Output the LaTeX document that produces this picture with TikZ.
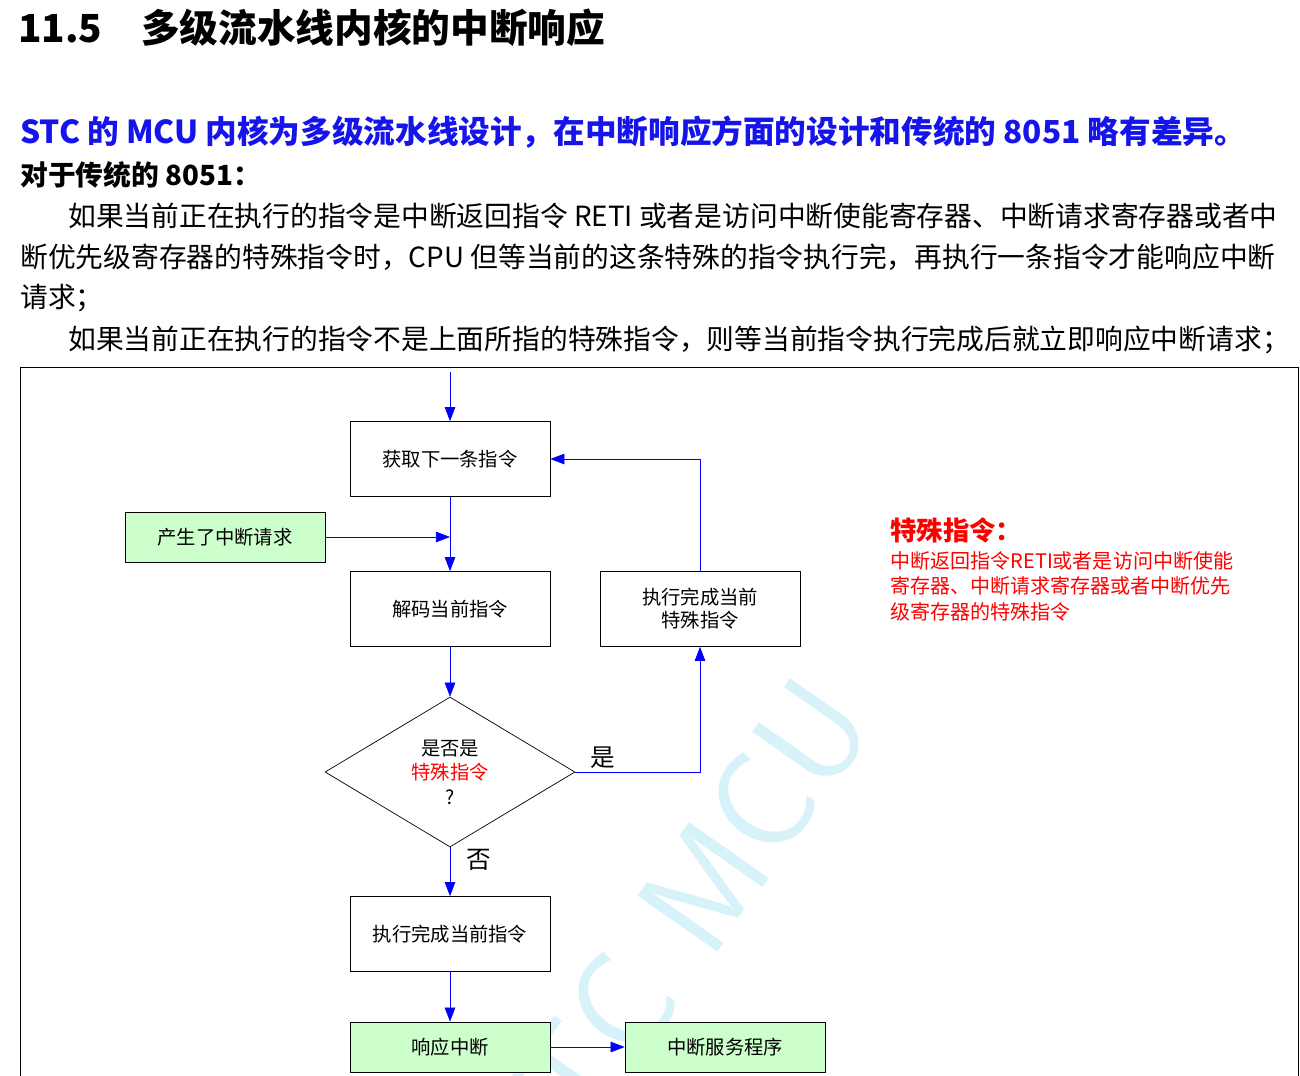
\documentclass[tikz,border=0pt]{standalone}
\usepackage{fontspec}
\setmainfont{Liberation Serif}
\newfontfamily\cjk{Noto Sans CJK SC}
\usetikzlibrary{shapes.geometric,arrows.meta}
\definecolor{boxgreen}{RGB}{204,255,204}
\definecolor{headblue}{RGB}{20,20,235}
\definecolor{wmark}{RGB}{215,242,248}
\tikzset{
  flowbox/.style={draw, minimum width=4cm, minimum height=1.5cm, font=\cjk\fontsize{11}{13}\selectfont, align=center},
  greenbox/.style={flowbox, fill=boxgreen, minimum height=1cm},
  flowarr/.style={draw=blue, -{Triangle[length=8pt,width=6pt]}},
  txtline/.style={anchor=west, inner sep=0pt, font=\cjk\fontsize{15.8}{18}\selectfont}
}
\begin{document}
\begin{tikzpicture}[x=0.02cm,y=-0.02cm]

%% - bounding box
\useasboundingbox (0,0) rectangle (1300,1075);

%% - Draw texts above the frame
%% - --------------------------------------

\node[anchor=west,inner sep=0pt,font=\cjk\bfseries\fontsize{22}{25}\selectfont] (title) at (18,28) {11.5\hspace{1em}多级流水线内核的中断响应};
\node[anchor=west,inner sep=0pt,text=headblue,font=\cjk\bfseries\fontsize{18}{21}\selectfont] (head) at (20,132) {STC 的 MCU 内核为多级流水线设计，在中断响应方面的设计和传统的 8051 略有差异。};
\node[txtline,font=\cjk\bfseries\fontsize{15.8}{18}\selectfont] (sub) at (20,175) {对于传统的 8051：};
\node[txtline] (pa) at (68,216) {如果当前正在执行的指令是中断返回指令 RETI 或者是访问中断使能寄存器、中断请求寄存器或者中};
\node[txtline] (pb) at (20,257) {断优先级寄存器的特殊指令时，CPU 但等当前的这条特殊的指令执行完，再执行一条指令才能响应中断};
\node[txtline] (pc) at (20,298) {请求；};
\node[txtline] (pd) at (68,340) {如果当前正在执行的指令不是上面所指的特殊指令，则等当前指令执行完成后就立即响应中断请求；};

%% - frame and watermark
%% - --------------------------------------

\draw[black, thin] (20,367) rectangle (1298,1090);
\node[rotate=55,text=wmark,font=\sffamily\fontsize{80}{80}\selectfont] (wm) at (670,935) {STC MCU};

%% - Draw boxes
%% - --------------------------------------

\node[flowbox] (fetch) at (450,459) {获取下一条指令};
\node[greenbox] (irq) at (225,537) {产生了中断请求};
\node[flowbox] (decode) at (450,609) {解码当前指令};
\node[flowbox] (special) at (700,609) {执行完成当前\\特殊指令};
\node[draw, diamond, aspect=1.667, minimum width=5cm, minimum height=3cm, inner sep=0pt, font=\cjk\fontsize{11}{14}\selectfont, align=center] (check) at (450,772) {是否是\\\textcolor{red}{特殊指令}\\?};
\node[flowbox] (exec) at (450,934) {执行完成当前指令};
\node[greenbox] (resp) at (450,1047) {响应中断};
\node[greenbox] (isr) at (725,1047) {中断服务程序};

%% - Draw arrows
%% - --------------------------------------

\coordinate (entry) at (450,372);
\coordinate (join) at (450,537);
\coordinate (yescorner) at (700,772);
\coordinate (backcorner) at (700,459);

\draw[flowarr] (entry) -- (fetch.north);
\draw[flowarr] (fetch.south) -- (decode.north);
\draw[flowarr] (irq.east) -- (join);
\draw[flowarr] (decode.south) -- (check.north);
\draw[flowarr] (check.east) -- (yescorner) -- (special.south);
\draw[flowarr] (special.north) -- (backcorner) -- (fetch.east);
\draw[flowarr] (check.south) -- (exec.north);
\draw[flowarr] (exec.south) -- (resp.north);
\draw[flowarr] (resp.east) -- (isr.west);

\node[font=\cjk\fontsize{14}{16}\selectfont] (yes) at (603,758) {是};
\node[font=\cjk\fontsize{14}{16}\selectfont] (no) at (479,860) {否};

%% - Draw note
%% - --------------------------------------

\node[anchor=west,inner sep=0pt,text=red,font=\cjk\bfseries\fontsize{15}{17}\selectfont] (notehead) at (890,530) {特殊指令：};
\node[anchor=north west,inner sep=0pt,text=red,align=left,font=\cjk\fontsize{11.4}{14.6}\selectfont] (note) at (890,551) {中断返回指令RETI或者是访问中断使能\\寄存器、中断请求寄存器或者中断优先\\级寄存器的特殊指令};

\end{tikzpicture}
\end{document}
